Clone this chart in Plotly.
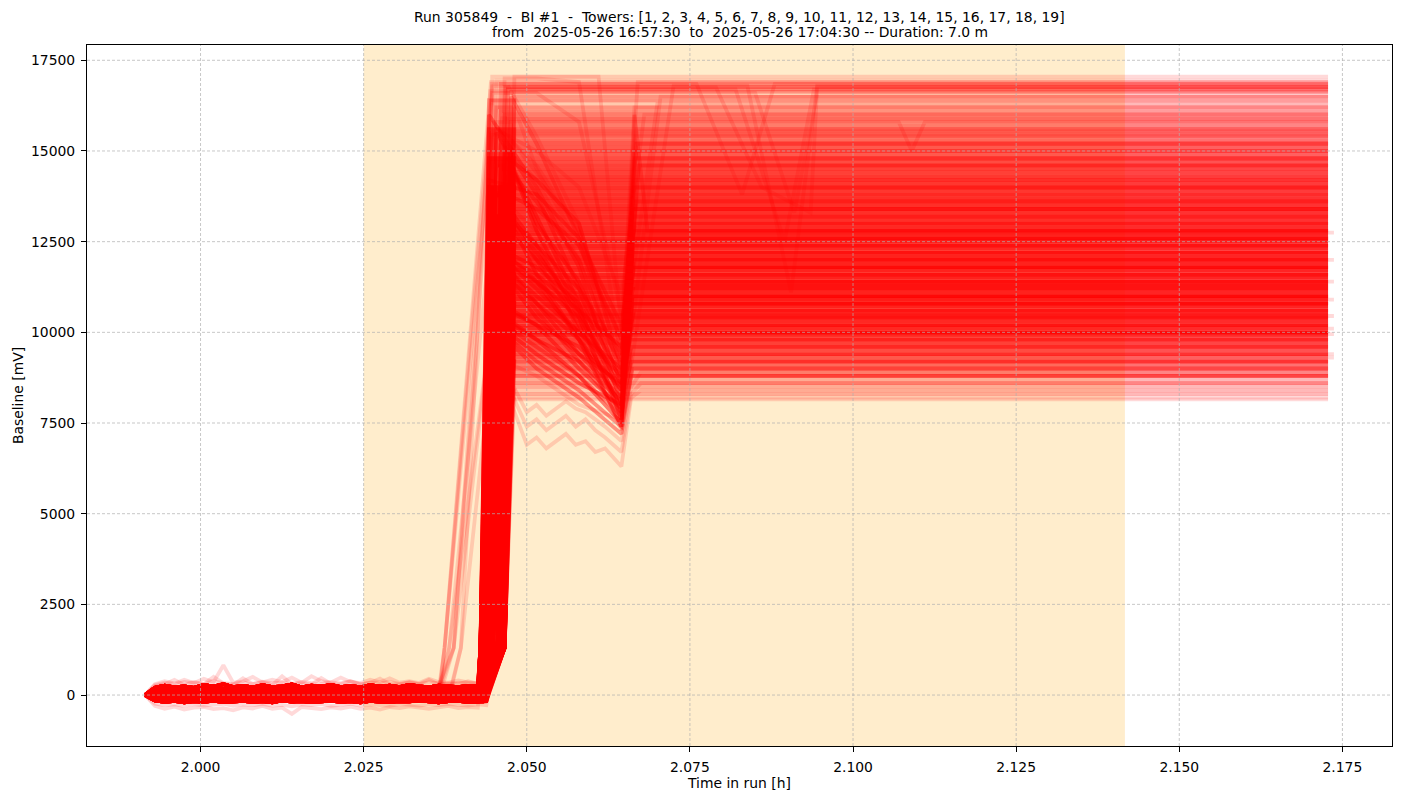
import plotly.graph_objects as go

#______________________________________________ data ______________________________________________

# sample times [h] of the flat part before the ramp
base_t = [1.9915, 1.9930, 1.9945, 1.9960, 1.9975, 1.9990, 2.0005, 2.0020, 2.0035, 2.0050,
          2.0065, 2.0080, 2.0095, 2.0110, 2.0125, 2.0140, 2.0155, 2.0170, 2.0185, 2.0200,
          2.0215, 2.0230, 2.0245, 2.0260, 2.0275, 2.0290, 2.0305, 2.0320, 2.0335, 2.0350,
          2.0365, 2.0380, 2.0395, 2.0410, 2.0425, 2.0432, 2.0438]

# baseline noise [mV] read at base_t (typical channel shapes, 0-8 common, 9-13 single outliers)
noise_mv = [
    [0, -150, -190, -160, -200, -170, -185, -155, -195, -175, -160, -190, -170, -200, -150, -180, -165, -195, -175, -155,
     -185, -170, -200, -160, -180, -190, -165, -175, -150, -185, -200, -170, -160, -190, -175, -180, -170],
    [0, -110, -140, -120, -100, -135, -115, -145, -125, -105, -130, -140, -115, -125, -100, -135, -120, -145, -110, -125,
     -130, -105, -140, -120, -115, -135, -125, -100, -130, -145, -115, -120, -135, -110, -125, -130, -120],
    [0, -60, -90, -70, -50, -85, -65, -95, -75, -55, -80, -90, -65, -75, -50, -85, -70, -95, -60, -75,
     -80, -55, -90, -70, -65, -85, -75, -50, -80, -95, -65, -70, -85, -60, -75, -70, -80],
    [0, -10, -40, -20, 0, -35, -15, -45, -25, -5, -30, -40, -15, -25, 0, -35, -20, -45, -10, -25,
     -30, -5, -40, -20, -15, -35, -25, 0, -30, -45, -15, -20, -35, -10, -25, -20, -30],
    [0, 40, 10, 30, 50, 15, 35, 5, 25, 45, 20, 10, 35, 25, 50, 15, 30, 5, 40, 25,
     20, 45, 10, 30, 35, 15, 25, 50, 20, 5, 35, 30, 15, 40, 25, 30, 20],
    [0, 90, 60, 80, 100, 65, 85, 55, 75, 95, 70, 60, 85, 75, 100, 65, 80, 55, 90, 75,
     70, 95, 60, 80, 85, 65, 75, 100, 70, 55, 85, 80, 65, 90, 75, 80, 70],
    [0, 140, 110, 130, 150, 115, 135, 105, 125, 145, 120, 110, 135, 125, 150, 115, 130, 105, 140, 125,
     120, 145, 110, 130, 135, 115, 125, 150, 120, 105, 135, 130, 115, 140, 125, 130, 120],
    [0, 160, 200, 170, 190, 150, 210, 180, 165, 195, 175, 155, 205, 170, 185, 160, 200, 175, 150, 190,
     180, 165, 210, 170, 155, 195, 175, 185, 160, 200, 170, 190, 155, 180, 175, 170, 180],
    [0, 200, 260, 210, 240, 200, 280, 230, 300, 220, 250, 210, 270, 220, 240, 290, 210, 260, 230, 280,
     220, 250, 210, 270, 230, 260, 220, 280, 240, 210, 260, 230, 220, 250, 230, 240, 220],
    [0, -300, -380, -320, -400, -350, -330, -390, -360, -420, -340, -370, -300, -380, -350, -520, -330, -360, -390, -340,
     -370, -320, -380, -350, -400, -330, -360, -310, -350, -380, -340, -300, -360, -330, -350, -340, -360],
    [0, 300, 380, 320, 420, 330, 450, 360, 820, 340, 380, 500, 350, 420, 360, 480, 340, 520, 380, 350,
     480, 360, 330, 420, 350, 460, 340, 380, 330, 450, 360, 340, 400, 350, 330, 340, 330],
    [0, 250, 300, 420, 280, 360, 300, 500, 320, 280, 460, 300, 350, 280, 520, 300, 330, 290, 470, 310,
     300, 380, 290, 340, 450, 300, 290, 360, 300, 420, 290, 330, 300, 380, 300, 310, 300],
    [0, 280, 340, 300, 360, 320, 300, 380, 330, 310, 350, 300, 370, 320, 340, 300, 360, 330, 310, 350,
     320, 380, 300, 340, 320, 360, 310, 340, 300, 350, 330, 310, 340, 320, 300, 310, 320],
    [0, -240, -280, -260, -300, -250, -290, -270, -240, -300, -260, -280, -250, -290, -270, -310, -260, -280, -250, -300,
     -270, -240, -290, -260, -280, -300, -250, -270, -290, -260, -280, -250, -270, -290, -260, -270, -280],
]

# ramp shapes: leave baseline, knee (~1300 mV), reach level
prof_leave = [2.0430, 2.0430, 2.0434, 2.0434, 2.0440, 2.0440, 2.0440, 2.0426, 2.0366, 2.0380, 2.0392, 2.0372]
prof_knee = [2.0433, 2.0437, 2.0442, 2.0448, 2.0455, 2.0461, 2.0466, 2.0429, 2.0374, 2.0388, 2.0399, 2.0381]
prof_top = [2.0447, 2.0453, 2.0460, 2.0466, 2.0471, 2.0476, 2.0481, 2.0442, 2.0445, 2.0447, 2.0444, 2.0462]
KNEE_MV = 1300

M1_T = 2.0515
M2_T = 2.0580
DIP_T = 2.0645
END_T = 2.1728
LATE_END_T = 2.1737

# channels that stay at their level after the ramp
flat_final = [17050, 16950, 16850, 16760, 16700, 16620, 16500, 16400, 16300, 16200,
              16100, 16000, 15900, 15800, 15700, 15600, 15500, 15400, 15300, 15200,
              15100, 15000, 14900, 14800, 14700, 14600,
              14500, 14400, 14300, 14200, 14100, 14000, 13900, 13800, 13700, 13600,
              13500, 13400, 13300, 13200, 13100, 13000, 12900, 12800, 12700, 12600,
              12500, 12400, 12300, 12200, 12100, 12000, 11900, 11800, 11700, 11600,
              11500, 11400, 11300, 11200, 11100, 11000, 10900, 10800, 10700, 10600,
              10500, 10400, 10300, 10200, 10100, 10000, 9900, 9800, 9700, 9600,
              9500,
              9400, 9300, 9200, 9100, 9000, 8900, 8800, 8700, 8600, 8500,
              8400, 8300, 8200, 8150]
flat_count = [1, 1, 2, 3, 3, 2, 3, 2, 1, 3,
              3, 4, 4, 4, 4, 5, 5, 5, 5, 6,
              6, 7, 6, 7, 7, 8,
              8, 8, 9, 9, 9, 10, 9, 10, 10, 10,
              10, 11, 10, 11, 10, 11, 11, 11, 12, 11,
              12, 12, 11, 12, 12, 12, 12, 12, 12, 12,
              12, 12, 12, 12, 12, 12, 12, 11, 12, 11,
              12, 11, 11, 11, 10, 16, 10, 8, 8, 7,
              7,
              6, 5, 6, 4, 5, 3, 4, 2, 3, 2,
              1, 2, 1, 1]

# a few channels that start to move early (single, faint)
early_final = [16900, 16780, 16650, 16380, 15900, 15550, 15450, 12500, 10500, 8800]
early_prof = [8, 9, 10, 8, 11, 9, 8, 11, 9, 10]
early_noise = [0, 1, 2, 3, 4, 5, 6, 7, 8, 0]

# channels that sag before recovering
dip_peak = [17000, 16800, 16500, 16200, 16000, 15800, 15500, 15200, 15000, 14800,
            14600, 14400, 14200, 14000, 13800, 13600, 13400, 13200, 13000, 12800,
            12600, 12400, 12200, 12000, 11800, 11600, 11400, 11200, 11000, 10800,
            10600, 10400, 10200, 10000, 9800, 9600, 9400, 16600, 15600, 13900,
            12900, 11900, 15300, 14300, 12300]
dip_m1 = [17000, 15400, 15200, 14500, 14000, 14600, 13800, 14200, 13200, 14200,
          12800, 13000, 13800, 12400, 12800, 12200, 12000, 12400, 11600, 12200,
          11400, 11800, 11200, 10800, 11000, 10600, 10800, 10400, 10200, 10200,
          9800, 9800, 9600, 9400, 9200, 9000, 8800, 16600, 15000, 13400,
          12000, 11400, 14400, 13600, 11600]
dip_m2 = [16900, 13000, 12600, 12400, 11800, 12800, 11200, 12000, 10800, 13000,
          10600, 11400, 12600, 10400, 10000, 10600, 10200, 11200, 9800, 10400,
          9800, 10800, 10000, 9400, 10000, 9200, 9800, 9400, 9000, 9600,
          8800, 9200, 8800, 8600, 8400, 8200, 8000, 15800, 14000, 12400,
          11000, 10400, 12800, 12000, 10600]
dip_low = [9200, 8800, 8400, 9600, 8000, 9800, 7800, 10000, 7600, 9000,
           8200, 8600, 10200, 7600, 7300, 8400, 7900, 9400, 7400, 7700,
           8000, 8800, 9000, 8600, 8800, 7800, 8400, 8200, 7900, 8500,
           7500, 8100, 7700, 8000, 7400, 7200, 7600, 10500, 11000, 9800,
           9200, 8600, 9400, 8900, 9600]
dip_rec_t = [2.0668, 2.0665, 2.0662, 2.0666, 2.0660, 2.0665, 2.0660, 2.0670, 2.0658, 2.0672,
             2.0662, 2.0664, 2.0666, 2.0658, 2.0725, 2.0663, 2.0660, 2.0663, 2.0660, 2.0705,
             2.0662, 2.0664, 2.0662, 2.0660, 2.0664, 2.0667, 2.0662, 2.0658, 2.0662, 2.0661,
             2.0662, 2.0660, 2.0660, 2.0660, 2.0662, 2.0660, 2.0662, 2.0668, 2.0680, 2.0664,
             2.0665, 2.0663, 2.0700, 2.0668, 2.0664]
dip_final = [15600, 14200, 13200, 15400, 12600, 16200, 11800, 13800, 11200, 14600,
             13400, 12000, 13000, 10800, 16800, 12400, 11600, 12800, 11400, 16500,
             12200, 10600, 10400, 10000, 11800, 13600, 11000, 9800, 10800, 10200,
             11000, 9600, 9400, 9200, 9000, 8800, 9100, 15000, 16000, 14000,
             14800, 12600, 16300, 15200, 11300]
dip_count = [1, 1, 2, 1, 3, 1, 3, 1, 4, 3,
             4, 4, 3, 4, 1, 4, 4, 4, 4, 1,
             4, 4, 4, 4, 4, 3, 4, 4, 4, 4,
             4, 4, 3, 4, 3, 3, 1, 1, 1, 3,
             3, 4, 1, 3, 4]

# a few single channels with their own path after the ramp
wavy_t = [2.0477, 2.0500, 2.0515, 2.0530, 2.0545, 2.0560, 2.0575, 2.0590, 2.0605, 2.0620, 2.0645, 2.0660, 2.0675]
spec_prof = [2, 5, 4, 3, 0, 1, 2, 3, 0, 6, 7]
spec_noise = [4, 5, 6, 7, 3, 5, 1, 2, 8, 6, 2]
spec_count = [2, 1, 1, 1, 1, 1, 1, 1, 1, 1, 1]
spec_t = [
    [2.0462, 2.0560, 2.0645, 2.0665, 2.0685],
    wavy_t,
    wavy_t,
    wavy_t,
    [2.0450, 2.0838, 2.0905, 2.0945],
    [2.0456, 2.0820, 2.0895, 2.0940],
    [2.0462, 2.0850, 2.0910, 2.0945],
    [2.0468, 2.0790, 2.0860, 2.0935, 2.0945],
    [2.0450, 2.1070, 2.1090, 2.1110],
    [2.0481, 2.0610, 2.0645, 2.0670],
    [2.0446, 2.0760, 2.0830, 2.0880],
]
spec_v = [
    [12000, 10800, 7400, 16000, 12800],
    [8000, 6900, 7100, 6800, 7000, 7200, 6900, 7000, 6700, 6800, 6300, 8200, 8400],
    [8300, 7400, 7600, 7300, 7500, 7700, 7400, 7600, 7300, 7100, 6700, 8300, 8600],
    [8600, 7800, 8000, 7700, 7900, 8100, 7900, 7800, 7600, 7400, 7000, 8500, 8900],
    [16800, 16800, 11100, 16800],
    [16700, 16700, 12500, 16700],
    [16600, 16600, 13300, 16600],
    [16750, 16750, 14000, 13300, 16750],
    [15800, 15800, 15000, 15800],
    [17050, 17050, 10000, 16900],
    [16850, 16850, 13800, 16850],
]

# channels whose record runs a little longer (these carry the noisy outlier baselines)
late_final = [12750, 12000, 11400, 10900, 10450, 10100, 9950, 9400, 9300]
late_prof = [0, 1, 2, 3, 4, 5, 6, 7, 0]
late_noise = [9, 10, 11, 12, 13, 5, 6, 7, 8]

x_ticks = [2.000, 2.025, 2.050, 2.075, 2.100, 2.125, 2.150, 2.175]
y_ticks = [0, 2500, 5000, 7500, 10000, 12500, 15000, 17500]

BI_START = 2.025
BI_END = 2.025 + 7.0 / 60

title1 = "Run 305849  -  BI #1  -  Towers: [1, 2, 3, 4, 5, 6, 7, 8, 9, 10, 11, 12, 13, 14, 15, 16, 17, 18, 19]"
title2 = "from  2025-05-26 16:57:30  to  2025-05-26 17:04:30 -- Duration: 7.0 m"

#______________________________________________ plot ______________________________________________

FONT = "DejaVu Sans"
ALPHA = 0.15


def ramp(noise_id, prof):
    xs = [t for t in base_t if t < prof_leave[prof]]
    ys = list(noise_mv[noise_id][:len(xs)])
    xs.append(prof_knee[prof])
    ys.append(KNEE_MV)
    return xs, ys


def add_line(fig, xs, ys, count):
    # one trace stands for `count` channels sitting on top of each other
    a = 1 - (1 - ALPHA) ** count
    fig.add_trace(go.Scatter(
        x=xs, y=ys, mode="lines",
        line=dict(color="rgba(255,0,0,%.3f)" % a, width=3.8),
        hoverinfo="skip", showlegend=False
    ))


fig = go.Figure()

for i in range(len(flat_final)):
    p = i % 8
    xs, ys = ramp(i % 9, p)
    xs += [prof_top[p], END_T]
    ys += [flat_final[i], flat_final[i]]
    add_line(fig, xs, ys, flat_count[i])

for i in range(len(early_final)):
    p = early_prof[i]
    xs, ys = ramp(early_noise[i], p)
    xs += [prof_top[p], END_T]
    ys += [early_final[i], early_final[i]]
    add_line(fig, xs, ys, 1)

for i in range(len(dip_final)):
    p = (i + 3) % 8
    xs, ys = ramp((i + 4) % 9, p)
    xs += [prof_top[p], M1_T, M2_T, DIP_T, dip_rec_t[i], END_T]
    ys += [dip_peak[i], dip_m1[i], dip_m2[i], dip_low[i], dip_final[i], dip_final[i]]
    add_line(fig, xs, ys, dip_count[i])

for i in range(len(spec_t)):
    xs, ys = ramp(spec_noise[i], spec_prof[i])
    xs += spec_t[i] + [END_T]
    ys += spec_v[i] + [spec_v[i][-1]]
    add_line(fig, xs, ys, spec_count[i])

for i in range(len(late_final)):
    xs, ys = ramp(late_noise[i], late_prof[i])
    xs += [prof_top[late_prof[i]], LATE_END_T]
    ys += [late_final[i], late_final[i]]
    add_line(fig, xs, ys, 1)

# burn-in window
fig.add_shape(type="rect", xref="x", yref="paper", x0=BI_START, x1=BI_END, y0=0, y1=1,
              fillcolor="rgba(255,165,0,0.2)", line_width=0, layer="below")

# dashed grid drawn on top, as in the original
grid = dict(color="#b0b0b0", width=0.7, dash="3px,2px")
for xv in x_ticks:
    fig.add_shape(type="line", xref="x", yref="paper", x0=xv, x1=xv, y0=0, y1=1, line=grid, layer="above")
for yv in y_ticks:
    fig.add_shape(type="line", xref="paper", yref="y", x0=0, x1=1, y0=yv, y1=yv, line=grid, layer="above")

fig.add_annotation(text=title1, xref="paper", yref="paper", x=0.5, y=1.0404, showarrow=False,
                   xanchor="center", yanchor="middle", font=dict(family=FONT, size=13.9, color="black"))
fig.add_annotation(text=title2, xref="paper", yref="paper", x=0.5, y=1.0181, showarrow=False,
                   xanchor="center", yanchor="middle", font=dict(family=FONT, size=13.9, color="black"))

axis_common = dict(
    showgrid=False, zeroline=False, showline=True, mirror=True, linecolor="black", linewidth=1,
    ticks="outside", ticklen=5, tickwidth=1, tickcolor="black", ticklabelstandoff=3,
    tickfont=dict(family=FONT, size=13.9, color="black"),
)

# the page body adds 8px around the plot, so the figure is 8px smaller here
fig.update_layout(
    width=1394, height=791,
    margin=dict(l=75, r=9, t=37, b=53),
    paper_bgcolor="white", plot_bgcolor="white",
    hovermode=False,
    xaxis=dict(range=[1.9826, 2.1826], tickvals=x_ticks, tickformat=".3f",
               title=dict(text="Time in run [h]", standoff=4, font=dict(family=FONT, size=13.9, color="black")),
               **axis_common),
    yaxis=dict(range=[-1405, 17922], tickvals=y_ticks, tickformat="d",
               title=dict(text="Baseline [mV]", standoff=4, font=dict(family=FONT, size=13.9, color="black")),
               **axis_common),
)

fig.write_html("out.html")
